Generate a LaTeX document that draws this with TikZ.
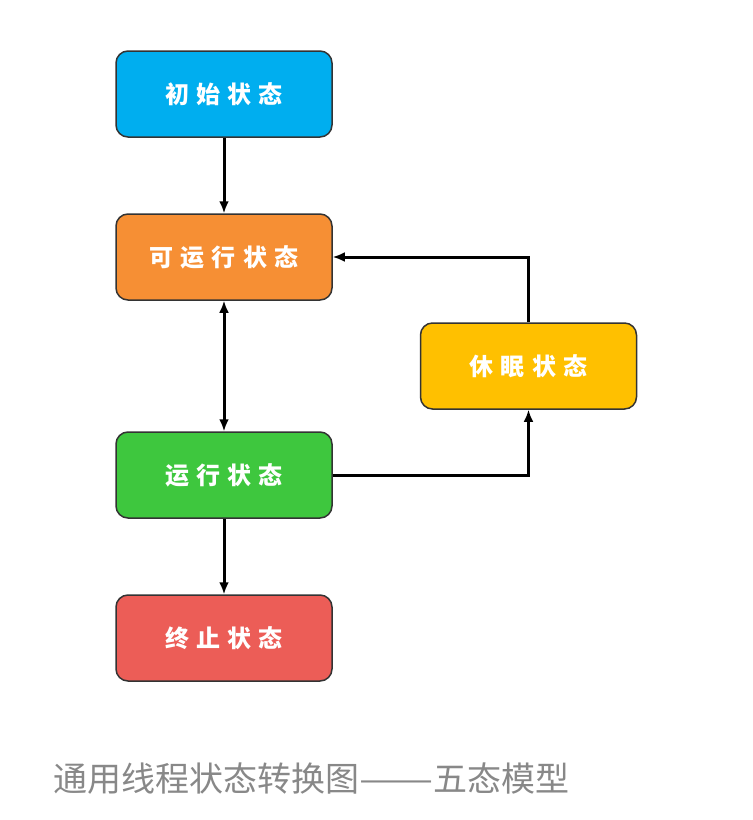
\documentclass[tikz,border=0pt]{standalone}
\usepackage{fontspec}
\usepackage{graphicx}
\usetikzlibrary{arrows.meta}
\newfontfamily\cjkbox[LetterSpace=30]{Noto Sans CJK SC}
\newfontfamily\cjkcap{Noto Sans CJK SC}
\definecolor{cblue}{HTML}{00AEEF}
\definecolor{corange}{HTML}{F68F34}
\definecolor{cgreen}{HTML}{3EC73E}
\definecolor{cred}{HTML}{EC5D57}
\definecolor{cyellow}{HTML}{FFC000}
\definecolor{cborder}{HTML}{333333}
\definecolor{ccap}{HTML}{888888}
\tikzset{
  statebox/.style={draw=cborder, line width=1.5pt, rounded corners=12pt,
    minimum width=216pt, minimum height=86pt, inner sep=0pt,
    text=white, font=\cjkbox\fontsize{24pt}{27pt}\selectfont\bfseries},
  conn/.style={draw=black, line width=3pt, -{Latex[length=12pt,width=10pt]}},
  conn2/.style={draw=black, line width=3pt, {Latex[length=12pt,width=10pt]}-{Latex[length=12pt,width=10pt]}}
}
\begin{document}
\begin{tikzpicture}[x=1pt,y=-1pt]
\useasboundingbox[fill=white] (0,0) rectangle (753,820);
\node[statebox, fill=cblue] (init) at (224,94) {初始状态};
\node[statebox, fill=corange] (ready) at (224,257) {可运行状态};
\node[statebox, fill=cgreen] (run) at (224,475) {运行状态};
\node[statebox, fill=cred] (dead) at (224,638) {终止状态};
\node[statebox, fill=cyellow] (sleep) at (528.5,366) {休眠状态};
\draw[conn] (init.south) -- (ready.north);
\draw[conn2] (ready.south) -- (run.north);
\draw[conn] (run.south) -- (dead.north);
\draw[conn] (run.east) -| (sleep.south);
\draw[conn] (sleep.north) |- (ready.east);
\node[anchor=west, inner sep=0pt, text=ccap, font=\cjkcap\fontsize{34pt}{38pt}\selectfont] (cap) at (53,779) {通用线程状态转换图\scalebox{1.3}[1]{——}五态模型};
\end{tikzpicture}
\end{document}
